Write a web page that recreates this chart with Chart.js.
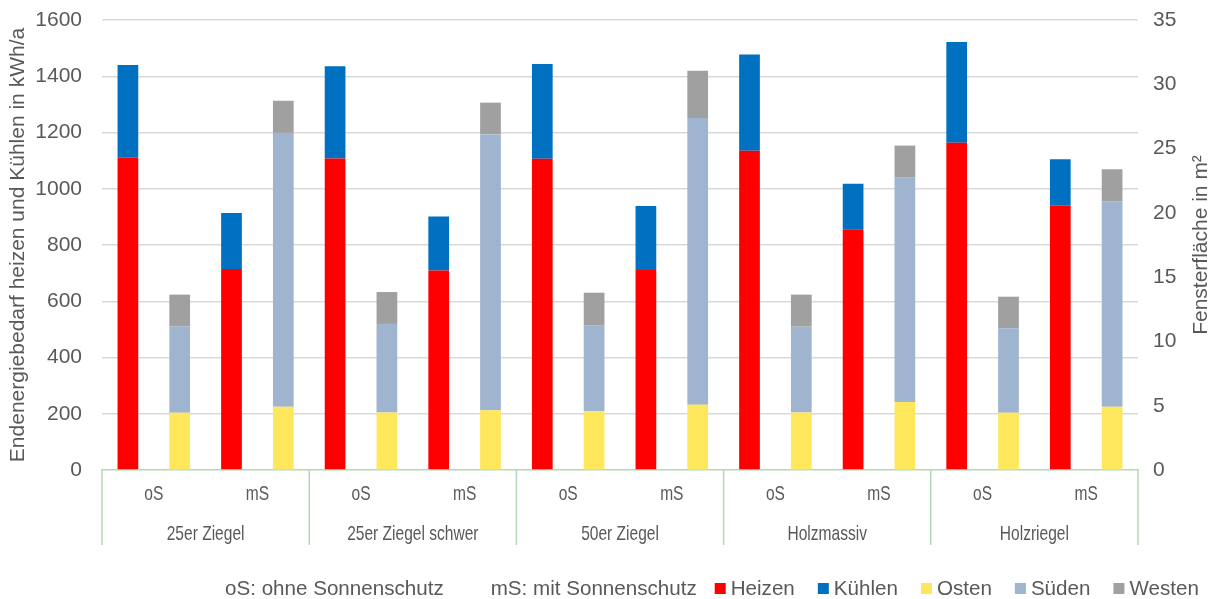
<!DOCTYPE html>
<html><head><meta charset="utf-8">
<script src="https://cdn.jsdelivr.net/npm/chart.js@4.4.1/dist/chart.umd.min.js"></script>
<style>html,body{margin:0;padding:0;background:#fff;overflow:hidden}#wrap{width:1214px;height:599px}</style>
</head><body><div id="wrap"><canvas id="c" width="1214" height="599"></canvas></div>
<script>
// ---- data ----
const categories = ['oS','mS','oS','mS','oS','mS','oS','mS','oS','mS'];
const groups = ['25er Ziegel','25er Ziegel schwer','50er Ziegel','Holzmassiv','Holzriegel'];
const heizen  = [1110, 715, 1108, 709, 1107, 711, 1135, 856, 1164, 940];
const kuehlen = [330, 199, 328, 192, 337, 228, 342, 162, 358, 165];
const osten   = [4.46, 4.92, 4.48, 4.64, 4.56, 5.08, 4.48, 5.29, 4.46, 4.92];
const sueden  = [6.72, 21.3, 6.88, 21.46, 6.69, 22.3, 6.67, 17.47, 6.56, 15.98];
const westen  = [2.46, 2.5, 2.48, 2.47, 2.54, 3.68, 2.49, 2.47, 2.46, 2.49];
const leftTicks  = [0, 200, 400, 600, 800, 1000, 1200, 1400, 1600];
const rightTicks = [0, 5, 10, 15, 20, 25, 30, 35];
const noteTexts = ['oS: ohne Sonnenschutz', 'mS: mit Sonnenschutz'];
const leftTitle = 'Endenergiebedarf heizen und Kühlen in kWh/a';
const rightTitle = 'Fensterfläche in m²';

const FONT = "'Liberation Sans', Arial, sans-serif";
const TXT = '#595959';
const GREEN = '#B2D9B6';
Chart.defaults.font.family = FONT;
Chart.defaults.color = TXT;

const barOpts = {barPercentage: 0.4, categoryPercentage: 1.0, borderWidth: 0};
const datasets = [
  {label: 'Heizen', data: heizen, backgroundColor: '#FF0000', stack: 'E', yAxisID: 'y', ...barOpts},
  {label: 'Kühlen', data: kuehlen, backgroundColor: '#0070C0', stack: 'E', yAxisID: 'y', ...barOpts},
  {label: 'Osten', data: osten, backgroundColor: '#FFE75B', stack: 'F', yAxisID: 'y2', ...barOpts},
  {label: 'Süden', data: sueden, backgroundColor: '#9FB4CF', stack: 'F', yAxisID: 'y2', ...barOpts},
  {label: 'Westen', data: westen, backgroundColor: '#A0A0A0', stack: 'F', yAxisID: 'y2', ...barOpts}
];

const decor = {
  id: 'decor',
  afterDraw(chart) {
    const {ctx, chartArea: ca, scales: {x}} = chart;
    const catW = x.getPixelForValue(1) - x.getPixelForValue(0);
    ctx.save();
    // group separators
    ctx.strokeStyle = GREEN; ctx.lineWidth = 1.5;
    for (let k = 0; k <= groups.length; k++) {
      const px = x.getPixelForValue(2 * k) - catW / 2;
      ctx.beginPath(); ctx.moveTo(px, ca.bottom); ctx.lineTo(px, ca.bottom + 75); ctx.stroke();
    }
    // category + group labels (condensed)
    ctx.fillStyle = TXT;
    ctx.font = '21px ' + FONT;
    ctx.textAlign = 'center'; ctx.textBaseline = 'alphabetic';
    const squash = (t, cx, cy) => { ctx.save(); ctx.translate(cx, cy); ctx.scale(0.74, 1); ctx.fillText(t, 0, 0); ctx.restore(); };
    categories.forEach((c, i) => squash(c, x.getPixelForValue(i), ca.bottom + 30));
    groups.forEach((g, k) => squash(g, (x.getPixelForValue(2 * k) + x.getPixelForValue(2 * k + 1)) / 2, ca.bottom + 69.5));
    // right axis title, reading bottom to top
    ctx.save();
    ctx.translate(1207, (ca.top + ca.bottom) / 2);
    ctx.rotate(-Math.PI / 2);
    ctx.textAlign = 'center'; ctx.textBaseline = 'alphabetic';
    ctx.font = '21px ' + FONT;
    ctx.fillText(rightTitle, 0, 0);
    ctx.restore();
    // legend
    ctx.font = '20.6px ' + FONT;
    ctx.textAlign = 'left'; ctx.textBaseline = 'alphabetic';
    const base = 595;
    let lx = 225;
    noteTexts.forEach((t, i) => {
      ctx.fillStyle = TXT;
      ctx.fillText(t, lx, base);
      lx += ctx.measureText(t).width + (i < noteTexts.length - 1 ? 47 : 18);
    });
    chart.data.datasets.forEach((ds) => {
      ctx.fillStyle = ds.backgroundColor;
      ctx.fillRect(lx, 583, 11, 11);
      lx += 16;
      ctx.fillStyle = TXT;
      ctx.fillText(ds.label, lx, base);
      lx += ctx.measureText(ds.label).width + 23;
    });
    ctx.restore();
  }
};

new Chart(document.getElementById('c'), {
  type: 'bar',
  data: {labels: categories, datasets},
  plugins: [decor],
  options: {
    responsive: false, animation: false, devicePixelRatio: 1,
    layout: {padding: {top: 20, left: 0, right: 0, bottom: 0}},
    plugins: {legend: {display: false}, tooltip: {enabled: false}},
    scales: {
      x: {
        stacked: true, offset: true,
        grid: {display: false},
        border: {display: true, color: GREEN, width: 1.5},
        ticks: {display: false},
        afterFit: s => { s.height = 129; }
      },
      y: {
        position: 'left', stacked: true, min: 0, max: 1600,
        afterBuildTicks: s => { s.ticks = leftTicks.map(v => ({value: v})); },
        grid: {color: c => (c.tick && c.tick.value === 0) ? 'rgba(0,0,0,0)' : '#D9D9D9', lineWidth: 1.5, drawTicks: false},
        border: {display: false},
        ticks: {font: {size: 21}, color: TXT, padding: 20, callback: v => String(v)},
        title: {display: true, text: leftTitle, font: {size: 21}, color: TXT, padding: {top: 6, bottom: 0}},
        afterFit: s => { s.width = 102; s.paddingTop = 0; s.paddingBottom = 0; }
      },
      y2: {
        position: 'right', stacked: true, min: 0, max: 35,
        afterBuildTicks: s => { s.ticks = rightTicks.map(v => ({value: v})); },
        grid: {drawOnChartArea: false, drawTicks: false},
        border: {display: false},
        ticks: {font: {size: 21}, color: TXT, padding: 15, callback: v => String(v)},
        afterFit: s => { s.width = 76; s.paddingTop = 0; s.paddingBottom = 0; }
      }
    }
  }
});
</script></body></html>
